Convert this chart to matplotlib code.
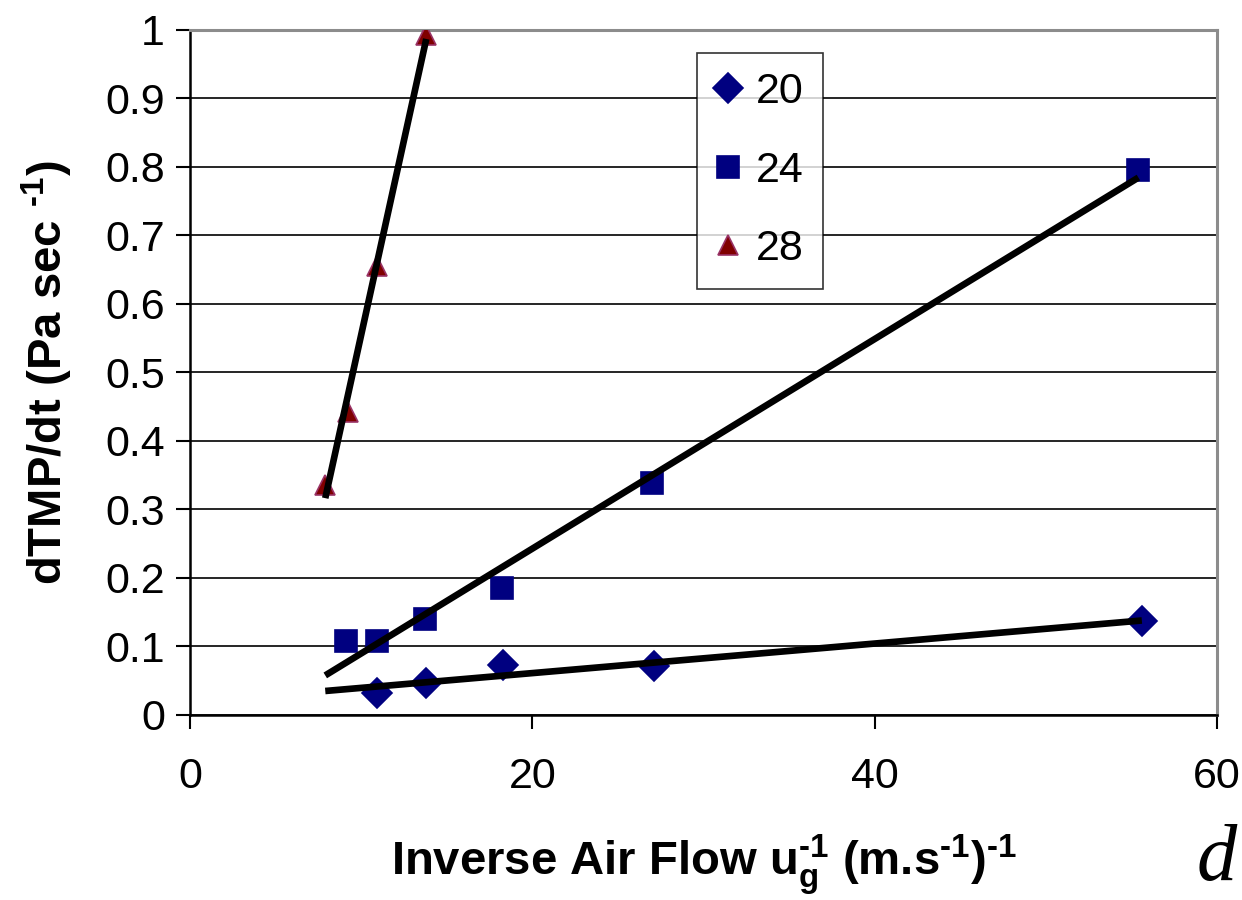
#!/usr/bin/env python
# coding: utf-8

# dTMP/dt vs inverse air flow, three series with linear trend lines

import numpy as np
import matplotlib
matplotlib.use('Agg')
import matplotlib.pyplot as plt

# Data
labels = ['20', '24', '28']
x_20 = [10.9, 13.8, 18.3, 27.1, 55.6]
y_20 = [0.032, 0.047, 0.073, 0.072, 0.137]
x_24 = [9.1, 10.9, 13.7, 18.2, 27.0, 55.4]
y_24 = [0.108, 0.108, 0.140, 0.186, 0.339, 0.795]
x_28 = [7.9, 9.2, 10.9, 13.8]
y_28 = [0.335, 0.442, 0.655, 0.993]

xs = [x_20, x_24, x_28]
ys = [y_20, y_24, y_28]
x_ticks = [0, 20, 40, 60]
y_ticks = [0, 0.1, 0.2, 0.3, 0.4, 0.5, 0.6, 0.7, 0.8, 0.9, 1]
y_tick_labels = ['0', '0.1', '0.2', '0.3', '0.4', '0.5', '0.6', '0.7', '0.8', '0.9', '1']

# Styles
markers = ['D', 's', '^']
msizes = [15, 16, 15]
faces = ['#000080', '#000080', '#800000']
edges = ['#000080', '#000080', '#993366']

plt.rcParams['font.family'] = ['Liberation Sans', 'DejaVu Sans']
plt.rcParams['mathtext.fontset'] = 'custom'
plt.rcParams['mathtext.rm'] = 'Liberation Sans:bold'
plt.rcParams['mathtext.it'] = 'Liberation Sans:bold'
plt.rcParams['mathtext.bf'] = 'Liberation Sans:bold'

fig = plt.figure(figsize=(12.42, 9.0), dpi=100)
ax = fig.add_axes([0.153, 0.2056, 0.827, 0.7611])

# trend lines start at the smallest x of all series
x_start = min(min(v) for v in xs)
for x, y in zip(xs, ys):
    k, b = np.polyfit(x, y, 1)
    xl = np.array([x_start, max(x)])
    ax.plot(xl, k * xl + b, color='black', lw=4.8, solid_capstyle='butt', zorder=4)

for x, y, lab, m, ms, fc, ec in zip(xs, ys, labels, markers, msizes, faces, edges):
    ax.plot(x, y, ls='none', marker=m, ms=ms, mfc=fc, mec=ec, mew=1.2,
            label=lab, zorder=3)

ax.set_xlim(0, 60)
ax.set_ylim(0, 1)
ax.set_xticks(x_ticks)
ax.set_yticks(y_ticks)
ax.set_yticklabels(y_tick_labels)
ax.tick_params(axis='both', direction='out', length=10, width=1.5,
               labelsize=31, colors='black')
ax.tick_params(axis='x', pad=20)
ax.tick_params(axis='y', pad=8)

ax.grid(axis='y', color='black', lw=1.2)
ax.set_axisbelow(True)
for s in ['left', 'bottom']:
    ax.spines[s].set_color('black')
    ax.spines[s].set_linewidth(1.8)
for s in ['top', 'right']:
    ax.spines[s].set_color('#8c8c8c')
    ax.spines[s].set_linewidth(2.2)

ax.set_xlabel(r'Inverse Air Flow u$_{g}^{\text{-1}}$ (m.s$^{\text{-1}}$)$^{\text{-1}}$',
              fontsize=34, fontweight='bold', labelpad=26)
ax.set_ylabel(r'dTMP/dt (Pa sec $^{\text{-1}}$)', fontsize=34, fontweight='bold',
              labelpad=22)

leg = ax.legend(loc='upper left', bbox_to_anchor=(0.494, 0.967), fontsize=31,
                frameon=True, fancybox=False, handlelength=0.5, handletextpad=0.4,
                labelspacing=0.9, borderpad=0.45, borderaxespad=0)
leg.get_frame().set_edgecolor('black')
leg.get_frame().set_linewidth(1.2)

fig.text(0.996, 0.022, 'd', fontsize=58, style='italic', ha='right', va='baseline',
         family=['Liberation Serif', 'DejaVu Serif'])

fig.savefig('out.png', dpi=100)
